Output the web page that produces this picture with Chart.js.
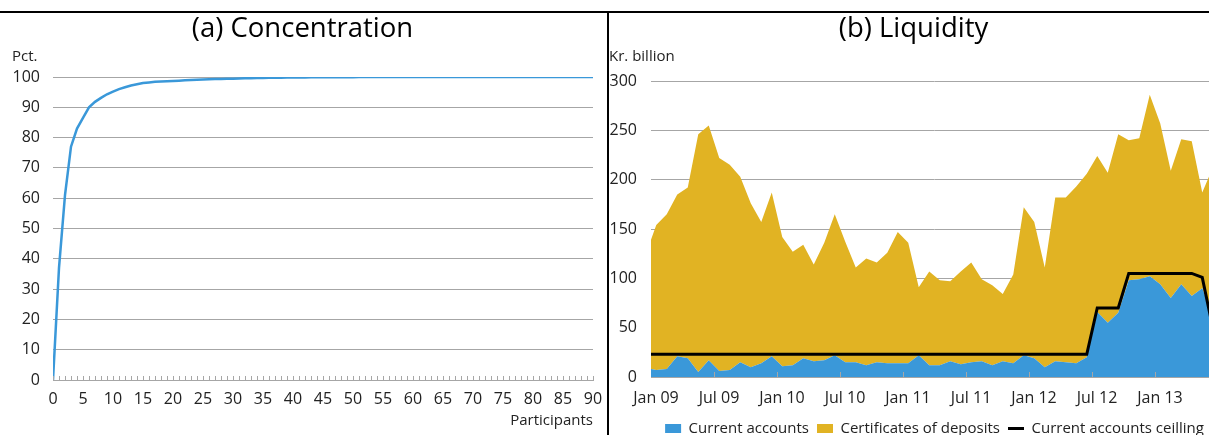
<!DOCTYPE html>
<html>
<head>
<meta charset="utf-8">
<script src="https://cdn.jsdelivr.net/npm/chart.js@4.4.1/dist/chart.umd.min.js"></script>
<style>
    html, body { margin: 0; padding: 0; background: #fff; overflow: hidden; width: 1209px; height: 435px; }
    #topline { position: absolute; left: 0; top: 11px; width: 1209px; height: 2px; background: #000; }
    #divider { position: absolute; left: 607px; top: 11px; width: 2px; height: 424px; background: #000; }
    #chart-concentration { position: absolute; left: 12px; top: 13px; }
    #chart-liquidity { position: absolute; left: 609px; top: 13px; }
</style>
</head>
<body>
<div id="topline"></div>
<canvas id="chart-concentration" width="595" height="422"></canvas>
<canvas id="chart-liquidity" width="609" height="433"></canvas>
<div id="divider"></div>

<script>
// ====== DATA (a) Concentration ======
// cumulative share of turnover, participant 0..90
const concentration = [
    0, 37, 61, 77, 83, 86.5, 90, 91.8, 93.1, 94.3,
    95.2, 96.0, 96.6, 97.2, 97.6, 98.0, 98.2, 98.4, 98.5, 98.6,
    98.7, 98.8, 98.9, 99.0, 99.1, 99.2, 99.25, 99.3, 99.35, 99.4,
    99.45, 99.5, 99.55, 99.6, 99.65, 99.7, 99.72, 99.75, 99.78, 99.8,
    99.82, 99.84, 99.86, 99.88, 99.89, 99.9, 99.91, 99.92, 99.93, 99.94,
    99.95, 99.96, 99.96, 99.97, 99.97, 99.98, 99.98, 99.98, 99.99, 99.99,
    99.99, 99.99, 100, 100, 100, 100, 100, 100, 100, 100,
    100, 100, 100, 100, 100, 100, 100, 100, 100, 100,
    100, 100, 100, 100, 100, 100, 100, 100, 100, 100,
    100
];

// ====== DATA (b) Liquidity, monthly Jan 09 .. Jun 13 (kr. billion) ======
const currentAccounts = [
    7, 8, 21, 19, 5, 17, 6, 7, 15, 10, 14, 21,
    11, 12, 19, 16, 17, 22, 15, 15, 12, 15, 14, 14,
    14, 22, 12, 12, 16, 13, 15, 16, 12, 16, 14, 22,
    19, 10, 16, 15, 14, 20, 66, 55, 65, 98, 99, 102,
    94, 80, 94, 82, 90, 62
];
const certificates = [
    147, 157, 164, 173, 241, 238, 216, 208, 188, 166, 143, 166,
    131, 115, 115, 98, 119, 143, 122, 96, 108, 101, 112, 133,
    122, 69, 95, 86, 81, 94, 101, 83, 81, 68, 90, 150,
    138, 101, 166, 167, 179, 186, 158, 152, 181, 142, 143, 184,
    163, 129, 147, 157, 97, 150
];
const ceiling = [
    23, 23, 23, 23, 23, 23, 23, 23, 23, 23, 23, 23,
    23, 23, 23, 23, 23, 23, 23, 23, 23, 23, 23, 23,
    23, 23, 23, 23, 23, 23, 23, 23, 23, 23, 23, 23,
    23, 23, 23, 23, 23, 23, 70, 70, 70, 105, 105, 105,
    105, 105, 105, 105, 101, 50
];
// values at the left edge of the plot (start of Jan 09)
const edgeCurrentAccounts = 8;
const edgeCertificates = 131;
const edgeCeiling = 23;

const tickLabels = ["Jan 09", "Jul 09", "Jan 10", "Jul 10", "Jan 11", "Jul 11", "Jan 12", "Jul 12", "Jan 13"];
const monthsPerTick = 6;
const monthCount = 54;

const BLUE = "#3a98d9";
const YELLOW = "#e1b323";
const GRID = "#a6a6a6";
const TEXT = "#222";

Chart.defaults.font.family = "'Open Sans', sans-serif";
Chart.defaults.color = TEXT;

let chartConcentration = null;
let chartLiquidity = null;

// small tick marks pointing up into the plot from the x axis
const innerTicks = {
    id: "innerTicks",
    afterDatasetsDraw(chart, args, opts) {
        if (!opts.values) return;
        const xs = chart.scales.x;
        const ctx = chart.ctx;
        ctx.save();
        ctx.strokeStyle = opts.color || GRID;
        ctx.lineWidth = 1;
        opts.values.forEach(v => {
            if (v < xs.min || v > xs.max) return;
            const px = Math.round(xs.getPixelForValue(v)) + 0.5;
            ctx.beginPath();
            ctx.moveTo(px, xs.top);
            ctx.lineTo(px, xs.top - opts.length);
            ctx.stroke();
        });
        ctx.restore();
    }
};

// month index -> {x, y}, points sit in the middle of each month
function monthPoints(values, edge) {
    const pts = [{ x: 0, y: edge }];
    values.forEach((v, i) => pts.push({ x: i + 0.5, y: v }));
    return pts;
}

function drawConcentration() {
    const ctx = document.getElementById("chart-concentration").getContext("2d");
    if (chartConcentration) chartConcentration.destroy();
    chartConcentration = new Chart(ctx, {
        type: "line",
        data: {
            datasets: [{
                label: "Concentration",
                data: concentration.map((v, i) => ({ x: i, y: v })),
                borderColor: BLUE,
                borderWidth: 2.5,
                pointRadius: 0,
                tension: 0,
                fill: false
            }]
        },
        plugins: [innerTicks],
        options: {
            responsive: false,
            animation: false,
            layout: { padding: { left: 0, right: 14, top: 0, bottom: 0 } },
            plugins: {
                legend: { display: false },
                tooltip: { enabled: false },
                title: {
                    display: true,
                    text: "(a) Concentration",
                    color: "#000",
                    font: { size: 27.5, weight: "normal" },
                    padding: { top: 0, bottom: 0 }
                },
                subtitle: {
                    display: true,
                    text: "Pct.",
                    align: "start",
                    color: TEXT,
                    font: { size: 15, weight: "normal" },
                    padding: { top: 2, bottom: 11 }
                },
                innerTicks: {
                    values: Array.from({ length: 91 }, (_, i) => i),
                    length: 4,
                    color: GRID
                }
            },
            scales: {
                x: {
                    type: "linear",
                    min: 0,
                    max: 90,
                    grid: { display: false },
                    border: { display: true, color: GRID, width: 1 },
                    ticks: { stepSize: 5, autoSkip: false, maxRotation: 0, padding: 2, font: { size: 16 } },
                    title: {
                        display: true,
                        text: "Participants",
                        align: "end",
                        font: { size: 15 },
                        padding: { top: 0, bottom: 5 }
                    },
                    afterFit: s => { s.height = 55; }
                },
                y: {
                    min: 0,
                    max: 100,
                    grid: { color: GRID, drawTicks: false },
                    border: { display: false },
                    ticks: { stepSize: 10, padding: 13, font: { size: 16 } },
                    afterFit: s => { s.width = 41; }
                }
            }
        }
    });
}

function drawLiquidity() {
    const ctx = document.getElementById("chart-liquidity").getContext("2d");
    if (chartLiquidity) chartLiquidity.destroy();
    chartLiquidity = new Chart(ctx, {
        type: "line",
        data: {
            datasets: [
                {
                    label: "Current accounts",
                    data: monthPoints(currentAccounts, edgeCurrentAccounts),
                    backgroundColor: BLUE,
                    borderColor: "rgba(0,0,0,0)",
                    borderWidth: 0,
                    pointRadius: 0,
                    pointStyle: "rect",
                    tension: 0,
                    fill: "origin",
                    stack: "liquidity"
                },
                {
                    label: "Certificates of deposits",
                    data: monthPoints(certificates, edgeCertificates),
                    backgroundColor: YELLOW,
                    borderColor: "rgba(0,0,0,0)",
                    borderWidth: 0,
                    pointRadius: 0,
                    pointStyle: "rect",
                    tension: 0,
                    fill: "-1",
                    stack: "liquidity"
                },
                {
                    label: "Current accounts ceilling",
                    data: monthPoints(ceiling, edgeCeiling),
                    borderColor: "#000",
                    backgroundColor: "#000",
                    borderWidth: 3,
                    pointRadius: 0,
                    pointStyle: "line",
                    tension: 0,
                    fill: false,
                    stack: "ceiling",
                    order: -1
                }
            ]
        },
        plugins: [innerTicks],
        options: {
            responsive: false,
            animation: false,
            layout: { padding: 0 },
            plugins: {
                tooltip: { enabled: false },
                title: {
                    display: true,
                    text: "(b) Liquidity",
                    color: "#000",
                    font: { size: 27.5, weight: "normal" },
                    padding: { top: 0, bottom: 0 }
                },
                subtitle: {
                    display: true,
                    text: "Kr. billion",
                    align: "start",
                    color: TEXT,
                    font: { size: 15, weight: "normal" },
                    padding: { top: 2, bottom: 15 }
                },
                legend: {
                    position: "bottom",
                    fullSize: false,
                    labels: {
                        usePointStyle: true,
                        pointStyleWidth: 16,
                        boxHeight: 9,
                        padding: 8,
                        color: TEXT,
                        font: { size: 15 },
                        sort: (a, b) => a.datasetIndex - b.datasetIndex
                    }
                },
                innerTicks: {
                    values: tickLabels.map((_, i) => i * monthsPerTick).filter(v => v > 0),
                    length: 5,
                    color: GRID
                }
            },
            scales: {
                x: {
                    type: "linear",
                    min: 0,
                    max: monthCount,
                    grid: { display: false },
                    border: { display: true, color: GRID, width: 1 },
                    afterBuildTicks: s => {
                        s.ticks = tickLabels.map((_, i) => ({ value: i * monthsPerTick }));
                    },
                    ticks: {
                        autoSkip: false,
                        maxRotation: 0,
                        padding: 4,
                        labelOffset: 5,
                        font: { size: 16 },
                        callback: (v, i) => tickLabels[i]
                    },
                    afterFit: s => { s.height = 36; }
                },
                y: {
                    stacked: true,
                    min: 0,
                    max: 300,
                    grid: { color: GRID, drawTicks: false },
                    border: { display: false },
                    ticks: { stepSize: 50, padding: 14, font: { size: 16 } },
                    afterFit: s => { s.width = 42; }
                }
            }
        }
    });
}

document.addEventListener("DOMContentLoaded", () => {
    drawConcentration();
    drawLiquidity();
});
</script>
</body>
</html>
